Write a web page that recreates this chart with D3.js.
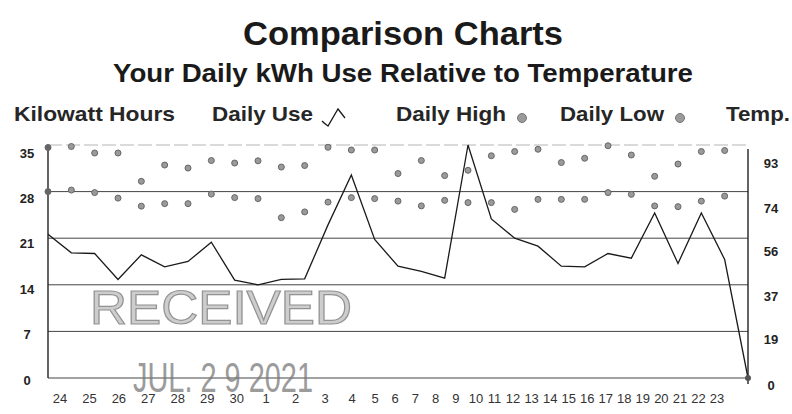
<!DOCTYPE html>
<html>
<head>
<meta charset="utf-8">
<script src="https://cdn.jsdelivr.net/npm/d3@7"></script>
<style>
  body { margin: 0; background: #fff; }
  svg { display: block; font-family: "Liberation Sans", Arial, sans-serif; }
</style>
</head>
<body>
<div id="chart"></div>
<script>
// day labels under the chart (billing period 24th -> 23rd)
var days = ['24', '25', '26', '27', '28', '29', '30', '1', '2', '3', '4', '5', '6', '7', '8',
            '9', '10', '11', '12', '13', '14', '15', '16', '17', '18', '19', '20', '21', '22', '23'];

// kWh per day (31 points, the last one closes the line at 0)
var dailyUse = [21.6, 18.8, 18.7, 14.8, 18.5, 16.7, 17.5, 20.4, 14.7, 14.0, 14.8, 14.9, 23.0, 30.5, 20.8, 16.8,
                16.0, 15.0, 35.0, 23.9, 21.0, 19.8, 16.8, 16.7, 18.7, 18.0, 24.8, 17.2, 24.8, 17.8, 0];

// temperatures, F
var dailyHigh = [92, 92.4, 89.8, 89.8, 78.5, 85, 83.8, 86.8, 85.8, 86.7, 84.2, 84.8, 92.1, 91, 91, 81.6,
                 86.8, 80.8, 82.9, 88.7, 90.4, 91.3, 86, 87.7, 92.7, 89, 80.5, 85.4, 90.4, 90.8];
var dailyLow = [74.4, 75, 74, 71.8, 68.6, 69.6, 69.6, 73.4, 72, 71.6, 64, 66.3, 70.2, 72, 71.6, 70.6,
                68.7, 70.9, 70, 70, 67.3, 71.3, 71.3, 71.3, 74, 73.3, 68.7, 68.4, 70.6, 72.6];

var kwhTicks = [0, 7, 14, 21, 28, 35];
var tempTicks = [0, 19, 37, 56, 74, 93];

var comparisonChart = function (selector) {
    var _width = 792,
        _height = 414,
        _left = 48,
        _right = 748,
        _top = 145,
        _bottom = 378,
        _dot = '#9a9a9a',
        _ink = '#1a1a1a';

    var _svg = d3.select(selector).append('svg').attr('width', _width).attr('height', _height);

    var _x = d3.scaleLinear().domain([0, dailyUse.length - 1]).range([_left, _right]),
        _y = d3.scaleLinear().domain([0, 35]).range([_bottom, _top]),
        _yTemp = d3.scaleLinear().domain([0, 93]).range([_bottom, _top]),
        // printed tick labels sit a little off the grid in the original, keep that
        _yLabel = d3.scaleLinear().domain([0, 35]).range([380, 153]),
        _yTempLabel = d3.scaleLinear().domain([0, 93]).range([385, 163]),
        // the printed day labels drift against the data points, follow that spacing
        _xLabel = d3.scaleLinear().domain([0, 9, 10, 11, 12, 16, 29]).range([60, 325, 352, 375, 395, 476, 717]);

    renderTitles();
    renderLegend();
    renderGrid();
    renderStamp();
    renderSeries();

    function renderTitles() {
        _svg.append('text')
            .attr('x', 403).attr('y', 45)
            .attr('text-anchor', 'middle')
            .attr('font-size', 33).attr('font-weight', 'bold')
            .attr('fill', _ink)
            .attr('textLength', 320).attr('lengthAdjust', 'spacingAndGlyphs')
            .text('Comparison Charts');

        _svg.append('text')
            .attr('x', 403).attr('y', 82)
            .attr('text-anchor', 'middle')
            .attr('font-size', 25).attr('font-weight', 'bold')
            .attr('fill', _ink)
            .attr('textLength', 580).attr('lengthAdjust', 'spacingAndGlyphs')
            .text('Your Daily kWh Use Relative to Temperature');
    }

    function renderLegend() {
        var g = _svg.append('g').attr('class', 'legend')
            .attr('font-size', 21).attr('font-weight', 'bold').attr('fill', '#262626');

        var items = [
            { text: 'Kilowatt Hours', x: 14, w: 161 },
            { text: 'Daily Use', x: 212, w: 101 },
            { text: 'Daily High', x: 396, w: 110 },
            { text: 'Daily Low', x: 560, w: 104 },
            { text: 'Temp.', x: 726, w: 64 }
        ];

        g.selectAll('text').data(items).enter().append('text')
            .attr('x', function (d) { return d.x; })
            .attr('y', 121)
            .attr('textLength', function (d) { return d.w; })
            .attr('lengthAdjust', 'spacingAndGlyphs')
            .text(function (d) { return d.text; });

        g.append('path')
            .attr('d', 'M322,121 Q325,124 328,126 L338,109 L345,118')
            .attr('fill', 'none').attr('stroke', _ink).attr('stroke-width', 1.3);

        g.selectAll('circle').data([522, 680]).enter().append('circle')
            .attr('cx', function (d) { return d; })
            .attr('cy', 118)
            .attr('r', 4.5)
            .attr('fill', _dot).attr('stroke', '#777').attr('stroke-width', 1);
    }

    function renderGrid() {
        var grid = _svg.append('g').attr('class', 'grid');

        grid.selectAll('line').data(kwhTicks).enter().append('line')
            .attr('x1', _left).attr('x2', _right)
            .attr('y1', function (d) { return _y(d); })
            .attr('y2', function (d) { return _y(d); })
            .attr('stroke', function (d) { return d === 35 ? '#b5b5b5' : '#444'; })
            .attr('stroke-dasharray', function (d) { return d === 35 ? '14,4' : null; })
            .attr('stroke-width', 1);

        grid.append('line')
            .attr('x1', _left).attr('x2', _left).attr('y1', _top).attr('y2', _bottom)
            .attr('stroke', '#222').attr('stroke-width', 1.4);
        grid.append('line')
            .attr('x1', _right).attr('x2', _right).attr('y1', _top + 4).attr('y2', _bottom + 6)
            .attr('stroke', '#222').attr('stroke-width', 1.4);

        var axisFont = '"Liberation Sans Narrow", "Liberation Sans", Arial, sans-serif';

        grid.selectAll('text.kwh').data(kwhTicks).enter().append('text')
            .attr('class', 'kwh')
            .attr('x', 27)
            .attr('y', function (d) { return _yLabel(d); })
            .attr('dy', '0.35em')
            .attr('text-anchor', 'middle')
            .attr('font-family', axisFont)
            .attr('font-size', 13).attr('font-weight', 'bold').attr('fill', '#222')
            .text(function (d) { return d; });

        grid.selectAll('text.temp').data(tempTicks).enter().append('text')
            .attr('class', 'temp')
            .attr('x', 771)
            .attr('y', function (d) { return _yTempLabel(d); })
            .attr('dy', '0.35em')
            .attr('text-anchor', 'middle')
            .attr('font-family', axisFont)
            .attr('font-size', 13).attr('font-weight', 'bold').attr('fill', '#222')
            .text(function (d) { return d; });

        grid.selectAll('text.day').data(days).enter().append('text')
            .attr('class', 'day')
            .attr('x', function (d, i) { return _xLabel(i); })
            .attr('y', 398)
            .attr('dy', '0.35em')
            .attr('text-anchor', 'middle')
            .attr('font-size', 13).attr('fill', '#333')
            .text(function (d) { return d; });
    }

    function renderStamp() {
        var stamp = _svg.append('g').attr('class', 'stamp').attr('opacity', 0.75);

        stamp.append('text')
            .attr('x', 90).attr('y', 324)
            .attr('font-size', 48)
            .attr('fill', '#bdbdbd').attr('stroke', '#6f6f6f').attr('stroke-width', 1.2)
            .attr('textLength', 262).attr('lengthAdjust', 'spacingAndGlyphs')
            .text('RECEIVED');

        stamp.append('text')
            .attr('x', 133).attr('y', 392)
            .attr('font-size', 42)
            .attr('font-family', '"Liberation Sans Narrow", "Liberation Sans", Arial, sans-serif')
            .attr('fill', '#7a7a7a')
            .attr('textLength', 180).attr('lengthAdjust', 'spacingAndGlyphs')
            .text('JUL. 2 9 2021');
    }

    function renderSeries() {
        var line = d3.line()
            .x(function (d, i) { return _x(i); })
            .y(function (d) { return _y(d); });

        _svg.append('path')
            .datum(dailyUse)
            .attr('d', line)
            .attr('fill', 'none')
            .attr('stroke', _ink)
            .attr('stroke-width', 1.3)
            .attr('stroke-linejoin', 'miter');

        _svg.append('circle')
            .attr('cx', _x(dailyUse.length - 1))
            .attr('cy', _y(dailyUse[dailyUse.length - 1]))
            .attr('r', 3).attr('fill', '#555');

        [dailyHigh, dailyLow].forEach(function (series, k) {
            _svg.append('g').attr('class', k === 0 ? 'high' : 'low')
                .selectAll('circle').data(series).enter().append('circle')
                .attr('cx', function (d, i) { return _x(i); })
                .attr('cy', function (d) { return _yTemp(d); })
                .attr('r', 3)
                .attr('fill', function (d, i) { return i === 0 ? '#666' : _dot; })
                .attr('stroke', '#666').attr('stroke-width', 1);
        });
    }
};

comparisonChart('#chart');
</script>
</body>
</html>
